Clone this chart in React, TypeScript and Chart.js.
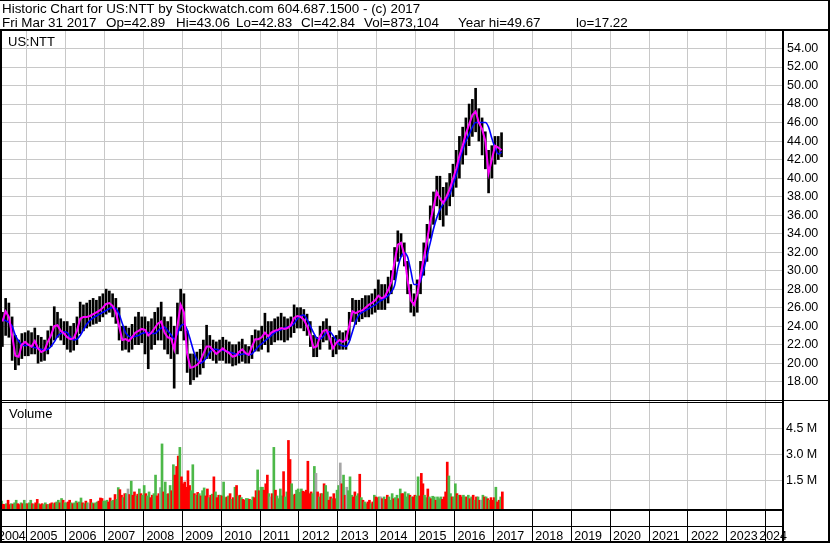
import React, { useEffect, useRef } from 'react';
import { Chart, registerables } from 'chart.js';

Chart.register(...registerables);

const TITLE_LINE_1 = 'Historic Chart for US:NTT by Stockwatch.com 604.687.1500 - (c) 2017';
const TITLE_LINE_2_PARTS = ['Fri Mar 31 2017', 'Op=42.89', 'Hi=43.06', 'Lo=42.83', 'Cl=42.84', 'Vol=873,104', 'Year hi=49.67', 'lo=17.22'];
const SYMBOL = 'US:NTT';
const VOLUME_LABEL = 'Volume';

// monthly series, May 2004 .. Mar 2017
const START_YEAR = 2004;
const START_MONTH = 5;

const PRICE_HIGH = [
  25.5, 27.0, 26.5, 25.0, 23.0, 22.5, 23.2, 23.3,
  23.5, 23.3, 23.8, 23.0, 22.8, 22.5, 23.5, 24.0, 26.1, 25.5, 24.8, 24.5,
  24.5, 24.0, 24.3, 25.0, 26.6, 26.3, 26.5, 26.8, 27.0, 26.8, 27.2, 27.5,
  28.0, 27.8, 27.5, 27.0, 26.0, 24.0, 24.0, 23.8, 24.2, 25.0, 25.5, 25.0,
  25.0, 24.5, 24.8, 25.5, 26.0, 26.6, 25.0, 24.5, 25.0, 24.0, 26.5, 28.0,
  27.5, 23.5, 21.0, 21.0, 21.2, 21.5, 22.5, 24.1, 23.0, 22.5, 22.3, 22.5,
  22.8, 22.5, 22.3, 22.0, 22.0, 22.3, 22.6, 22.0, 21.8, 23.0, 23.6, 23.5,
  24.0, 25.4, 24.5, 24.5, 24.8, 25.0, 25.4, 25.0, 24.8, 25.0, 26.3, 26.0,
  26.0, 25.8, 25.3, 24.5, 23.0, 22.8, 24.0, 24.5, 24.8, 24.0, 22.8, 23.0,
  23.5, 23.3, 23.5, 25.5, 27.0, 26.8, 26.8, 27.0, 27.3, 27.3, 27.5, 28.0,
  29.0, 28.5, 28.5, 29.3, 30.0, 32.5, 34.3, 34.0, 33.0, 31.0, 28.5, 27.5,
  29.0, 31.0, 33.0, 35.0, 37.0, 38.5, 40.2, 40.2, 39.0, 39.5, 40.5, 41.5,
  43.0, 44.5, 45.5, 46.5, 48.0, 48.5, 49.7, 47.5, 46.5, 45.0, 43.0, 43.5,
  44.5, 44.5, 44.9,
];

const PRICE_LOW = [
  21.8, 23.0, 22.8, 20.3, 19.3, 19.8, 20.5, 20.8,
  20.8, 21.0, 21.0, 20.0, 20.2, 20.3, 21.0, 21.8, 22.5, 22.8, 22.5, 22.0,
  21.5, 21.2, 21.4, 22.0, 23.2, 23.5, 23.8, 24.0, 24.2, 24.3, 24.5, 25.0,
  25.3, 25.5, 25.0, 24.3, 22.5, 21.4, 21.5, 21.2, 21.5, 22.0, 22.0, 22.2,
  21.0, 19.4, 21.5, 22.0, 22.5, 22.5, 21.5, 21.0, 20.5, 17.3, 21.0, 23.5,
  22.5, 19.0, 17.7, 18.2, 18.5, 18.8, 19.5, 20.5, 20.5, 20.3, 20.0, 20.3,
  20.3, 20.0, 20.0, 19.7, 19.8, 20.0, 20.2, 20.0, 20.0, 20.5, 21.3, 21.3,
  21.5, 22.0, 21.2, 22.0, 22.3, 22.5, 22.5, 22.3, 22.5, 22.8, 23.3, 23.8,
  23.8, 23.5, 23.0, 21.8, 20.7, 20.7, 21.5, 22.3, 22.5, 21.5, 20.7, 21.0,
  21.5, 21.5, 21.5, 22.5, 24.5, 24.2, 24.5, 24.8, 25.0, 25.0, 25.3, 25.5,
  25.8, 25.8, 25.8, 26.5, 27.5, 29.0, 31.0, 31.5, 30.5, 27.5, 25.5, 25.1,
  25.5, 27.5, 29.5, 31.0, 33.5, 35.0, 37.0, 35.5, 34.8, 36.0, 37.0, 38.0,
  39.0, 40.0, 41.5, 42.5, 43.5, 44.5, 45.0, 44.0, 42.5, 41.0, 38.4, 40.0,
  41.5, 42.0, 42.3,
];

const MA_FAST = [
  24.5, 25.6, 25.0, 23.0, 20.8, 20.7, 22.0, 22.3,
  22.0, 21.8, 22.4, 21.6, 21.2, 21.4, 22.3, 23.0, 24.0, 24.1, 23.5, 23.2,
  22.8, 22.6, 22.7, 23.5, 24.8, 25.0, 25.0, 25.1, 25.3, 25.5, 25.7, 26.0,
  26.4, 26.5, 26.2, 25.5, 24.0, 22.5, 22.6, 22.4, 22.8, 23.3, 23.5, 23.7,
  23.6, 23.0, 23.3, 23.8, 24.3, 24.5, 23.3, 22.8, 22.7, 21.5, 24.0, 26.3,
  25.5, 21.0, 19.5, 19.6, 19.8, 20.2, 21.0, 21.8, 21.8, 21.4, 21.0, 21.3,
  21.6, 21.3, 21.1, 20.7, 20.8, 21.2, 21.5, 21.1, 20.9, 21.8, 22.6, 22.6,
  22.8, 23.3, 22.9, 23.3, 23.5, 23.6, 23.8, 23.7, 23.8, 24.1, 24.9, 25.1,
  25.0, 24.7, 24.0, 23.0, 21.7, 21.8, 22.9, 23.5, 23.6, 22.7, 21.6, 22.2,
  22.5, 22.3, 22.5, 24.0, 25.6, 25.4, 25.6, 25.7, 26.0, 26.3, 26.5, 26.8,
  27.3, 27.0, 27.2, 27.9, 28.8, 31.0, 32.8, 33.0, 31.7, 29.0, 26.8, 26.3,
  27.5, 29.5, 31.3, 33.2, 35.3, 36.8, 38.5, 37.8, 37.3, 38.0, 38.8, 39.9,
  41.0, 42.4, 43.5, 44.8, 45.8, 46.8, 47.2, 46.0, 45.3, 44.0, 40.5, 42.0,
  43.5, 43.3, 43.0,
];

const MA_SLOW = [
  24.8, 24.6, 24.4, 24.0, 23.0, 22.4, 22.0, 21.9,
  22.0, 21.8, 21.7, 21.6, 21.5, 21.4, 21.5, 21.8, 22.3, 22.9, 23.2, 23.4,
  23.3, 22.8, 22.5, 22.6, 23.0, 23.6, 24.2, 24.6, 24.9, 25.1, 25.3, 25.5,
  25.7, 25.9, 26.0, 25.9, 25.3, 24.3, 23.3, 22.9, 22.8, 22.9, 23.0, 23.2,
  23.3, 23.3, 23.2, 23.2, 23.5, 23.8, 23.9, 23.5, 23.1, 22.6, 23.2, 24.0,
  24.2, 23.6, 22.5, 21.3, 20.4, 20.0, 20.2, 20.6, 21.2, 21.5, 21.5, 21.4,
  21.4, 21.3, 21.2, 21.1, 21.0, 20.9, 21.0, 21.0, 20.9, 21.0, 21.4, 21.8,
  22.1, 22.4, 22.7, 23.0, 23.3, 23.5, 23.6, 23.8, 23.9, 24.0, 24.3, 24.8,
  25.1, 25.2, 24.7, 24.0, 23.3, 22.7, 22.6, 22.9, 23.3, 23.4, 23.0, 22.5,
  22.0, 21.9, 21.8, 22.3, 23.4, 24.5, 25.2, 25.5, 25.7, 25.9, 26.1, 26.3,
  26.6, 26.8, 27.0, 27.3, 27.7, 28.4, 30.3, 31.5, 31.9, 31.5, 30.0, 28.5,
  28.5, 28.9, 30.1, 31.6, 33.0, 34.5, 35.7, 36.6, 37.2, 37.7, 38.2, 39.3,
  40.3, 41.8, 43.0, 44.0, 44.7, 45.5, 46.0, 46.0, 46.0, 46.0, 45.5, 44.3,
  43.3, 42.6, 42.8,
];

// half-monthly volume in millions, from first half of May 2004
const VOLUME_M = [
  0.30, 0.12, 0.10, 0.15, 0.35, 0.10, 0.15, 0.12, 0.20, 0.35, 0.15, 0.10, 0.20, 0.15, 0.35, 0.15,
  0.15, 0.20, 0.35, 0.15, 0.10, 0.20, 0.40, 0.15, 0.10, 0.15, 0.10, 0.20, 0.10, 0.10, 0.15, 0.20, 0.15, 0.20, 0.25, 0.35, 0.20, 0.45, 0.35, 0.20,
  0.20, 0.25, 0.35, 0.20, 0.15, 0.20, 0.30, 0.20, 0.25, 0.48, 0.20, 0.15, 0.30, 0.20, 0.15, 0.40, 0.20, 0.15, 0.20, 0.25, 0.30, 0.48, 0.45, 0.30,
  0.30, 0.35, 0.25, 0.48, 0.30, 0.35, 0.68, 0.40, 1.08, 0.96, 0.64, 0.50, 0.73, 0.73, 1.00, 0.68, 1.45, 0.64, 0.83, 0.60, 0.70, 1.00, 0.73, 0.64,
  1.20, 0.73, 0.60, 0.83, 0.50, 0.64, 0.73, 1.80, 0.60, 0.73, 1.08, 3.60, 0.83, 1.40, 0.70, 0.73, 1.20, 0.90, 2.40, 1.80, 2.30, 2.90, 3.40, 1.70,
  1.30, 1.40, 1.10, 2.05, 1.20, 0.90, 2.40, 0.73, 0.64, 0.80, 0.73, 0.60, 0.90, 1.06, 0.60, 1.00, 0.50, 0.64, 0.70, 1.70, 0.83, 0.50, 0.64, 0.64,
  0.60, 1.40, 0.50, 0.54, 0.60, 0.73, 0.40, 0.50, 1.10, 1.20, 0.60, 0.64, 0.50, 0.40, 0.35, 0.45, 0.44, 0.40, 0.35, 0.54, 0.50, 0.90, 2.10, 0.90,
  1.10, 1.10, 0.93, 1.30, 1.80, 0.73, 0.54, 0.73, 3.40, 0.93, 0.60, 0.44, 1.00, 0.60, 2.00, 0.54, 0.83, 3.80, 2.70, 1.30, 0.64, 0.70, 0.93, 1.00,
  0.80, 1.00, 0.87, 0.83, 0.93, 2.60, 0.73, 0.83, 0.73, 2.30, 1.90, 0.83, 0.54, 0.73, 0.73, 1.30, 1.20, 0.83, 0.35, 0.54, 0.44, 0.73, 0.44, 0.93,
  1.20, 2.50, 1.30, 1.80, 0.64, 1.10, 0.90, 1.70, 0.64, 0.54, 0.83, 0.60, 0.73, 1.85, 0.50, 0.35, 0.25, 0.15, 0.25, 0.35, 0.15, 0.25, 0.64, 0.54,
  0.50, 0.54, 0.54, 0.44, 0.54, 0.40, 0.64, 0.54, 0.35, 0.73, 0.44, 0.50, 0.64, 0.44, 1.00, 0.73, 0.73, 0.83, 0.54, 0.73, 0.64, 0.54, 0.54, 0.64,
  0.60, 1.70, 0.60, 1.90, 1.30, 0.64, 0.50, 1.00, 0.54, 0.44, 0.58, 0.54, 0.35, 0.54, 0.44, 0.54, 0.40, 0.54, 0.83, 2.55, 1.75, 0.73, 0.54, 0.54,
  1.30, 0.73, 0.64, 0.64, 0.54, 0.64, 0.54, 0.54, 0.64, 0.44, 0.54, 0.64, 0.35, 0.54, 0.54, 0.35, 0.35, 0.64, 0.54, 0.54, 0.44, 0.35, 0.50, 0.35,
  0.50, 1.10, 0.25, 0.35, 0.54, 0.83,
];

// g = up, r = down, n = unchanged (one letter per volume bar)
const VOLUME_DIR = [
  'grrgrrgrggrrgrgg',
  'rggrgrrgrrggrgrrgrggrgrg',
  'grrgrggrggrgrgnrgrggrrrg',
  'ggrrggrggrrgrgnrgrrgrgrg',
  'grggrrggrrngrggrgrgrrrgr',
  'rrrrrggrgrgrggrrgrgrgrrg',
  'rggrgrgrgrgrgrrggrggrrgr',
  'ggrrrgnrgrggggrggrrggrgg',
  'ggrrrrrrggnrgrgrggrrgrrg',
  'gnrgrngggrrggrgrggrrgrgr',
  'rgnrgrrgggrggrgrrgggrgrr',
  'ggrrrggrgrggrgggrrrrggrg',
  'grgrrggrgrgrgrgrngrgrgrr',
  'rgrrgr',
].join('').split('');

const YEAR_TICKS = [2005, 2006, 2007, 2008, 2009, 2010, 2011, 2012, 2013, 2014, 2015, 2016, 2017, 2018, 2019, 2020, 2021, 2022, 2023, 2024];
const YEAR_LABELS = [2004, 2005, 2006, 2007, 2008, 2009, 2010, 2011, 2012, 2013, 2014, 2015, 2016, 2017, 2018, 2019, 2020, 2021, 2022, 2023, 2024];
const PRICE_TICKS = [18, 20, 22, 24, 26, 28, 30, 32, 34, 36, 38, 40, 42, 44, 46, 48, 50, 52, 54];
const VOLUME_TICKS = [1.5, 3.0, 4.5];

const X_MIN = 2004.3135;
const X_MAX = 2024.419;
const PRICE_MIN = 15.915;
const PRICE_MAX = 55.89;
const VOL_MIN = -0.156;
const VOL_MAX = 6.076;

const VOL_COLORS: Record<string, string> = { g: '#4CB848', r: '#FF0000', n: '#A6A6A6' };
const FONT = '"Liberation Sans", Arial, sans-serif';
// left x of each header segment on line 2
const TITLE_LINE_2_X = [2, 106, 176, 236, 301, 364, 458, 576];

const monthX = (i: number) => START_YEAR + (START_MONTH - 1 + i + 0.5) / 12;
const halfX = (k: number) => START_YEAR + (START_MONTH - 1 + (k + 0.5) / 2) / 12;

const framePlugin = {
  id: 'frame',
  afterDraw(chart: any) {
    const { ctx, chartArea: a, scales } = chart;
    const W = chart.width;
    const H = chart.height;
    const xs = scales.x;
    const split = Math.round(scales.yv.top);
    ctx.save();
    ctx.fillStyle = '#000';
    ctx.fillRect(0, 0, W, 1);
    ctx.fillRect(0, 29, W, 2);
    ctx.fillRect(0, 31, 2, H - 31);
    ctx.fillRect(W - 2, 0, 2, H);
    ctx.fillRect(a.right, 31, 2, H - 31);
    ctx.fillRect(0, split - 1, W, 1);
    ctx.fillRect(0, split + 1, a.right, 1);
    ctx.fillRect(0, a.bottom, a.right, 2);
    ctx.fillRect(0, 526, a.right, 1);
    ctx.fillRect(0, H - 2, W, 2);
    YEAR_TICKS.forEach((yv) => {
      const px = Math.round(xs.getPixelForValue(yv) - 0.5);
      ctx.fillRect(px, a.bottom, 1, H - a.bottom);
    });

    ctx.textBaseline = 'alphabetic';
    ctx.textAlign = 'left';
    ctx.font = `13.4px ${FONT}`;
    ctx.fillText(TITLE_LINE_1, 2, 13);
    TITLE_LINE_2_PARTS.forEach((t, i) => ctx.fillText(t, TITLE_LINE_2_X[i], 27));
    ctx.font = `13px ${FONT}`;
    ctx.fillText(SYMBOL, 8, 46);
    ctx.fillText(VOLUME_LABEL, 9, 418);

    ctx.font = `12.5px ${FONT}`;
    YEAR_LABELS.forEach((yr) => {
      const label = String(yr);
      const w = ctx.measureText(label).width;
      let px = xs.getPixelForValue(yr) + 3;
      px = Math.max(px, a.left - 2);
      px = Math.min(px, a.right + 5 - w);
      ctx.fillText(label, px, 540);
    });
    ctx.restore();
  },
};

export default function App() {
  const ref = useRef<HTMLCanvasElement | null>(null);

  useEffect(() => {
    document.body.style.margin = '0';
    const canvas = ref.current;
    if (!canvas) return;

    const priceBars = PRICE_HIGH.map((h, i) => ({ x: monthX(i), y: [PRICE_LOW[i], h] }));
    const fast = MA_FAST.map((v, i) => ({ x: monthX(i), y: v }));
    const slow = MA_SLOW.map((v, i) => ({ x: monthX(i), y: v }));
    const vol = VOLUME_M.map((v, k) => ({ x: halfX(k), y: [VOL_MIN, v] }));
    const volColors = VOLUME_M.map((_, k) => VOL_COLORS[VOLUME_DIR[k]] || VOL_COLORS.n);

    const chart = new Chart(canvas, {
      type: 'bar',
      data: {
        datasets: [
          {
            type: 'line',
            data: fast,
            borderColor: '#FF00FF',
            borderWidth: 2,
            pointRadius: 0,
            yAxisID: 'y',
            order: 0,
          } as any,
          {
            type: 'line',
            data: slow,
            borderColor: '#0000FF',
            borderWidth: 1.6,
            pointRadius: 0,
            cubicInterpolationMode: 'monotone',
            yAxisID: 'y',
            order: 1,
          } as any,
          {
            type: 'bar',
            data: priceBars,
            backgroundColor: '#000000',
            barThickness: 2,
            grouped: false,
            yAxisID: 'y',
            order: 2,
          } as any,
          {
            type: 'bar',
            data: vol,
            backgroundColor: volColors,
            barThickness: 2,
            grouped: false,
            yAxisID: 'yv',
            order: 3,
          } as any,
        ],
      },
      options: {
        animation: false,
        responsive: false,
        events: [],
        layout: { padding: { top: 31, left: 0, right: 0, bottom: 0 } },
        plugins: { legend: { display: false }, tooltip: { enabled: false } },
        scales: {
          x: {
            type: 'linear',
            min: X_MIN,
            max: X_MAX,
            offset: false,
            grid: { color: '#C8C8C8', lineWidth: 1, drawTicks: false, offset: false },
            border: { display: false },
            ticks: { display: false },
            afterBuildTicks: (s: any) => { s.ticks = YEAR_TICKS.map((value) => ({ value })); },
            afterFit: (s: any) => { s.height = 34; },
          },
          y: {
            type: 'linear',
            position: 'right',
            stack: 'panes',
            stackWeight: 370,
            min: PRICE_MIN,
            max: PRICE_MAX,
            grid: { color: '#C8C8C8', lineWidth: 1, drawTicks: false },
            border: { display: false },
            ticks: {
              autoSkip: false,
              padding: 5,
              color: '#000',
              font: { family: FONT, size: 12.5 },
              callback: (v: any) => Number(v).toFixed(2),
            },
            afterBuildTicks: (s: any) => { s.ticks = PRICE_TICKS.map((value) => ({ value })); },
            afterFit: (s: any) => { s.width = 48; },
          },
          yv: {
            type: 'linear',
            position: 'right',
            stack: 'panes',
            stackWeight: 108,
            min: VOL_MIN,
            max: VOL_MAX,
            grid: { color: '#C8C8C8', lineWidth: 1, drawTicks: false },
            border: { display: false },
            ticks: {
              autoSkip: false,
              padding: 4,
              color: '#000',
              font: { family: FONT, size: 12.5 },
              callback: (v: any) => Number(v).toFixed(1) + ' M',
            },
            afterBuildTicks: (s: any) => { s.ticks = VOLUME_TICKS.map((value) => ({ value })); },
            afterFit: (s: any) => { s.width = 48; },
          },
        },
      } as any,
      plugins: [framePlugin],
    });

    return () => chart.destroy();
  }, []);

  return (
    <div style={{ position: 'absolute', left: 0, top: 0, width: 830, height: 543, background: '#fff' }}>
      <canvas ref={ref} width={830} height={543} style={{ display: 'block', width: 830, height: 543 }} />
    </div>
  );
}
